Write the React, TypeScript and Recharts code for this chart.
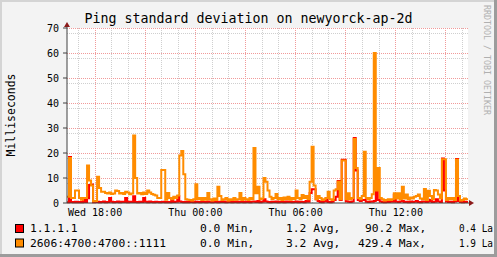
import React from "react";
import {
  CartesianGrid,
  ComposedChart,
  Line,
  ReferenceDot,
  XAxis,
  YAxis,
} from "recharts";

// one sample every ~7.2 minutes, index 14 = Wed 18:00
const V4 = [
  0.3, 18.4, 0.4, 0.3, 0.5, 0.3, 0.4, 0.3, 1.2, 0.4,
  1.9, 7.2, 7.4, 0.3, 0.4, 0.5, 0.3, 0.4, 0.6, 0.3,
  0.4, 2, 0.5, 0.3, 0.4, 0.6, 0.3, 0.5, 0.4, 2,
  0.3, 0.5, 0.4, 2.7, 0.4, 0.3, 0.5, 0.4, 2, 0.5,
  0.3, 0.6, 0.4, 0.3, 0.5, 0.4, 0.3, 0.4, 0.5, 0.3,
  0.4, 0.3, 1.2, 0.4, 0.5, 2.7, 0.6, 0.4, 0.3, 0.5,
  0.3, 0.4, 0.6, 0.3, 0.5, 0.4, 0.3, 0.5, 0.4, 0.3,
  0.6, 0.4, 0.3, 0.5, 0.4, 0.3, 0.5, 0.4, 0.6, 0.3,
  0.4, 0.5, 0.3, 0.4, 0.6, 0.3, 0.5, 0.4, 0.3, 0.5,
  0.4, 0.3, 0.5, 0.6, 0.4, 0.8, 0.3, 0.5, 1.5, 0.6,
  0.4, 0.3, 0.5, 0.4, 0.6, 0.3, 0.5, 0.4, 0.3, 0.6,
  0.4, 0.5, 0.3, 0.4, 0.6, 0.3, 0.5, 0.4, 0.3, 0.8,
  0.5, 4, 5.5, 5.5, 1.5, 0.8, 0.4, 0.3, 0.6, 2,
  0.4, 0.3, 0.5, 1.2, 2.5, 8.8, 1.2, 17.3, 17.3, 0.7,
  0.5, 0.4, 0.6, 26, 13, 1.2, 0.8, 1.2, 1.2, 0.5,
  0.4, 0.6, 0.5, 0.8, 5.3, 1.2, 0.6, 0.4, 0.3, 0.5,
  0.4, 0.6, 0.5, 3.3, 0.5, 0.4, 0.6, 0.8, 0.4, 0.5,
  0.3, 0.6, 0.4, 0.5, 0.8, 0.4, 0.3, 0.6, 0.5, 0.4,
  0.6, 1.2, 0.4, 0.5, 1.5, 0.6, 0.4, 17.8, 5, 0.6,
  0.4, 0.5, 0.3, 0.6, 17.6, 0.8, 0.4, 0.3, 0.5, 0.4, 0.4,
];

const V6 = [
  2.5, 18, 2, 2, 5, 5, 2, 1.3, 2, 2,
  15, 9, 7, 0.7, 0.8, 10.5, 6, 4.5, 4.5, 4,
  3.8, 4.2, 3.6, 3.8, 5, 4.8, 3.8, 4, 3.6, 4.5,
  4.2, 3.5, 3.8, 27, 10, 3.8, 4, 3.5, 4.2, 3.6,
  5, 4.2, 3.6, 3.3, 3, 2, 2, 13.2, 13.2, 1.3,
  4, 2, 1.5, 2.5, 2, 3, 19, 20.8, 11.5, 1.5,
  1.3, 1.2, 1, 1.5, 7.5, 1.5, 2, 1.2, 2, 1.3,
  4, 1.5, 1, 1.8, 1.2, 6.5, 2.8, 1.2, 1.5, 2,
  1, 1.5, 1.2, 2, 1.3, 1.5, 4, 1.2, 2, 1.5,
  1.2, 2, 1.5, 22, 3.9, 6.5, 1.5, 1.8, 10, 8.5,
  5, 2.5, 1.5, 2, 3.6, 1.5, 2, 1.2, 2.2, 1.5,
  2.5, 1.3, 2, 1.5, 5, 2, 1.5, 3.2, 2, 2.8,
  1.5, 8.5, 22.5, 7, 1.5, 2.8, 2, 1.2, 1.5, 2,
  4.5, 1.5, 1.2, 5, 5.5, 8.5, 1.5, 17, 17, 1.5,
  3.9, 1.5, 2, 25.6, 14, 2, 1.5, 2.8, 20.5, 2,
  1.5, 2, 3.5, 60, 5, 14, 2, 1.5, 1, 1.2,
  1.5, 1.2, 1.5, 3.9, 1.8, 3.9, 1.5, 6.5, 1.8, 3.4,
  1.5, 2.2, 1.8, 2.5, 2.8, 3.4, 1.8, 1.5, 5.6, 1.2,
  4.9, 2.8, 1.5, 5.2, 5, 3.4, 1.8, 17.5, 17.5, 1.2,
  2, 1.5, 2, 1.2, 17.3, 2.8, 1, 1.2, 1.8, 1.5, 1.5,
];

const TICK_LABELS = ["Wed 18:00", "Thu 00:00", "Thu 06:00", "Thu 12:00"];
const TICK_IDX = [14, 64, 114, 164];
const Y_TICKS = [0, 10, 20, 30, 40, 50, 60, 70];

const SERIES_NAMES = ["1.1.1.1", "2606:4700:4700::1111"];
const SERIES_COLORS = ["#ff0000", "#ff8c00"];
const MIN_VALS = ["0.0", "0.0"];
const AVG_VALS = ["1.2", "3.2"];
const MAX_VALS = ["90.2", "429.4"];
const LAST_VALS = ["0.4", "1.9"];

const MONO = "'DejaVu Sans Mono', monospace";
const PER_HOUR = 50 / 6;
const LAST_IDX = V6.length - 1;

const data = V6.map((v6, i) => ({ i, v6, v4: V4[i] }));

const hours: number[] = [];
for (let h = -1; 14 + h * PER_HOUR <= LAST_IDX; h++) hours.push(h);
const minorX = hours.filter((h) => h % 3 !== 0).map((h) => 14 + h * PER_HOUR);
const majorX = hours.filter((h) => h % 3 === 0).map((h) => 14 + h * PER_HOUR);
const minorY: number[] = [];
for (let v = 2; v < 70; v += 2) if (v % 10 !== 0) minorY.push(v);
const majorY = Y_TICKS.slice(1);

const RightArrow = (p: any) => (
  <g>
    <line x1={p.cx} y1={p.cy} x2={p.cx + 2} y2={p.cy} stroke="#404040" />
    <polygon
      points={`${p.cx + 1},${p.cy - 3} ${p.cx + 6},${p.cy} ${p.cx + 1},${p.cy + 3}`}
      fill="#8b1a1a"
    />
  </g>
);

const UpArrow = (p: any) => (
  <g>
    <line x1={p.cx} y1={p.cy} x2={p.cx} y2={p.cy - 2} stroke="#404040" />
    <polygon
      points={`${p.cx - 3},${p.cy - 1} ${p.cx},${p.cy - 6} ${p.cx + 3},${p.cy - 1}`}
      fill="#8b1a1a"
    />
  </g>
);

export default function App() {
  return (
    <div
      style={{
        position: "relative",
        width: 497,
        height: 257,
        background: "#f3f3f3",
        overflow: "hidden",
      }}
    >
      <style>{"body{margin:0}"}</style>
      <ComposedChart
        width={497}
        height={257}
        data={data}
        margin={{ top: 28, right: 29, left: 27, bottom: 34 }}
        style={{ position: "absolute", left: 0, top: 0 }}
      >
        <CartesianGrid
          fill="#ffffff"
          stroke="#cfcfcf"
          strokeDasharray="1 1"
          horizontalValues={minorY}
          verticalValues={minorX}
          shapeRendering="crispEdges"
        />
        <CartesianGrid
          stroke="#f19a9a"
          strokeDasharray="1 1"
          horizontalValues={majorY}
          verticalValues={majorX}
          shapeRendering="crispEdges"
        />
        <XAxis
          dataKey="i"
          type="number"
          domain={[0, LAST_IDX]}
          ticks={TICK_IDX}
          tickFormatter={(v: number) => TICK_LABELS[TICK_IDX.indexOf(v)] ?? ""}
          tickLine={false}
          tickSize={6}
          tickMargin={0}
          height={20}
          axisLine={{ stroke: "#404040" }}
          tick={{ fontSize: 10, fontFamily: MONO, fill: "#000" }}
        />
        <YAxis
          type="number"
          domain={[0, 70]}
          ticks={Y_TICKS}
          tickSize={4}
          tickMargin={4}
          width={40}
          axisLine={{ stroke: "#404040" }}
          tickLine={{ stroke: "#404040" }}
          tick={{ fontSize: 10, fontFamily: MONO, fill: "#000" }}
        />
        <Line
          dataKey="v4"
          type="stepAfter"
          stroke={SERIES_COLORS[0]}
          strokeWidth={2}
          dot={false}
          activeDot={false}
          isAnimationActive={false}
        />
        <Line
          dataKey="v6"
          type="stepAfter"
          stroke={SERIES_COLORS[1]}
          strokeWidth={2}
          dot={false}
          activeDot={false}
          isAnimationActive={false}
        />
        <ReferenceDot x={LAST_IDX} y={0} shape={RightArrow} />
        <ReferenceDot x={0} y={70} shape={UpArrow} />
      </ComposedChart>
      <svg
        width={497}
        height={257}
        style={{ position: "absolute", left: 0, top: 0, pointerEvents: "none" }}
        fontFamily={MONO}
      >
        <text x={248.5} y={23} textAnchor="middle" fontSize={13.3} fill="#000">
          Ping standard deviation on newyorck-ap-2d
        </text>
        <text
          x={15}
          y={115}
          textAnchor="middle"
          fontSize={11.5}
          fill="#000"
          transform="rotate(-90 15 115)"
        >
          Milliseconds
        </text>
        <text
          x={484}
          y={5}
          fontSize={8.3}
          fill="#b0b0b0"
          transform="rotate(90 484 5)"
        >
          RRDTOOL / TOBI OETIKER
        </text>
        {SERIES_NAMES.map((name, k) => {
          const base = 232 + k * 14.5;
          return (
            <g key={name} fontSize={11.3} fill="#000">
              <rect
                x={15.5}
                y={base - 7.5}
                width={8}
                height={8}
                fill={SERIES_COLORS[k]}
                stroke="#000"
              />
              <text x={30} y={base}>{name}</text>
              <text x={200} y={base}>{MIN_VALS[k]} Min,</text>
              <text x={286} y={base}>{AVG_VALS[k]} Avg,</text>
              <text x={k === 0 ? 365 : 358} y={base}>{MAX_VALS[k]} Max,</text>
              <text x={459} y={base} textLength={34} lengthAdjust="spacingAndGlyphs">
                {LAST_VALS[k]} La
              </text>
            </g>
          );
        })}
        <rect x={0} y={0} width={497} height={2} fill="#d4d4d4" />
        <rect x={0} y={0} width={2} height={257} fill="#d4d4d4" />
        <rect x={0} y={254} width={497} height={3} fill="#9c9c9c" />
        <rect x={494} y={0} width={3} height={257} fill="#9c9c9c" />
      </svg>
    </div>
  );
}
